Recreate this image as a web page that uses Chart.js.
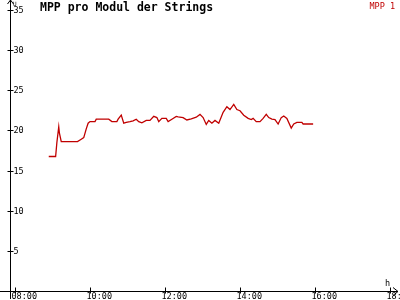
<!DOCTYPE html>
<html>
<head>
<meta charset="utf-8">
<script src="https://cdn.jsdelivr.net/npm/chart.js@4"></script>
<style>
  html, body { margin: 0; padding: 0; background: #fff; }
  #chart { display: block; }
</style>
</head>
<body>
<canvas id="chart" width="400" height="300"></canvas>
<script>
// Messzeitpunkte (hh:mm) und MPP-Werte pro Modul
const times = ['08:54', '09:05', '09:07', '09:10', '09:11', '09:14', '09:40', '09:46', '09:50', '09:54',
  '09:57', '10:00', '10:08', '10:10', '10:30', '10:35', '10:43', '10:45', '10:50', '10:54',
  '10:58', '11:04', '11:09', '11:14', '11:18', '11:23', '11:30', '11:36', '11:42', '11:47',
  '11:50', '11:55', '12:02', '12:05', '12:11', '12:18', '12:21', '12:29', '12:35', '12:42',
  '12:50', '12:56', '13:01', '13:06', '13:10', '13:15', '13:20', '13:26', '13:33', '13:39',
  '13:44', '13:50', '13:55', '14:00', '14:06', '14:13', '14:18', '14:21', '14:26', '14:32',
  '14:37', '14:42', '14:46', '14:51', '14:56', '15:01', '15:06', '15:10', '15:15', '15:22',
  '15:26', '15:31', '15:39', '15:41', '15:57'];
const mpp1 = [16.75, 16.75, 18.5, 20.45, 19.7, 18.6, 18.6, 18.9, 19.1, 20.2,
  20.9, 21.1, 21.1, 21.4, 21.4, 21.1, 21.1, 21.4, 21.9, 20.9,
  21.0, 21.1, 21.2, 21.4, 21.1, 20.95, 21.25, 21.25, 21.75, 21.6,
  21.1, 21.5, 21.5, 21.1, 21.4, 21.75, 21.7, 21.6, 21.3, 21.45,
  21.65, 22.0, 21.6, 20.75, 21.25, 20.9, 21.25, 20.9, 22.25, 22.95,
  22.6, 23.25, 22.6, 22.45, 21.9, 21.5, 21.35, 21.5, 21.1, 21.1,
  21.5, 22.0, 21.6, 21.4, 21.35, 20.8, 21.6, 21.8, 21.5, 20.3,
  20.8, 21.0, 21.0, 20.8, 20.8];

const xTickHours = [8, 10, 12, 14, 16, 18];
const xTickLabels = ['08:00', '10:00', '12:00', '14:00', '16:00', '18:00'];
const yTicks = [5, 10, 15, 20, 25, 30, 35];

const titleText = 'MPP pro Modul der Strings';
const seriesName = 'MPP 1';
const lineColor = '#c00000';

function toHours(t) {
  const [h, m] = t.split(':').map(Number);
  return h + m / 60;
}

const points = times.map((t, i) => ({ x: toHours(t), y: mpp1[i] }));

// --- Achsen, Beschriftung, Legende ---
const axesPlugin = {
  id: 'axes',
  afterDraw(chart) {
    const ctx = chart.ctx;
    const xs = chart.scales.x;
    const ys = chart.scales.y;
    const x0 = Math.round(xs.getPixelForValue(xs.min)) + 0.5;
    const y0 = Math.round(ys.getPixelForValue(0)) + 0.5;

    ctx.save();
    ctx.strokeStyle = '#000';
    ctx.fillStyle = '#000';
    ctx.lineWidth = 1;

    // Achsenlinien
    ctx.beginPath();
    ctx.moveTo(0, y0); ctx.lineTo(398, y0);
    ctx.moveTo(x0, 299); ctx.lineTo(x0, 0);
    // Pfeile
    ctx.moveTo(393, y0 - 4); ctx.lineTo(398, y0); ctx.lineTo(393, y0 + 4);
    ctx.moveTo(x0 - 3, 4); ctx.lineTo(x0, 0); ctx.lineTo(x0 + 3, 4);
    ctx.stroke();

    ctx.font = '8.5px "DejaVu Sans Mono", monospace';

    // y-Ticks
    ctx.textAlign = 'left';
    ctx.textBaseline = 'middle';
    yTicks.forEach(v => {
      const py = Math.round(ys.getPixelForValue(v)) + 0.5;
      ctx.beginPath();
      ctx.moveTo(x0 - 3, py); ctx.lineTo(x0 + 3, py);
      ctx.stroke();
      ctx.fillText(String(v), x0 + 3, py + 0.5);
    });

    // x-Ticks
    ctx.textBaseline = 'top';
    xTickHours.forEach((h, i) => {
      const px = Math.round(xs.getPixelForValue(h)) + 0.5;
      ctx.beginPath();
      ctx.moveTo(px, y0 - 4); ctx.lineTo(px, y0 + 2);
      ctx.stroke();
      ctx.fillText(xTickLabels[i], px - 4, y0 + 1);
    });

    // Einheiten
    ctx.textBaseline = 'alphabetic';
    ctx.fillText('h', 385, 286);
    ctx.font = '6px "DejaVu Sans Mono", monospace';
    ctx.fillText('U', 13, 6);

    // Titel
    ctx.font = 'bold 11.5px "DejaVu Sans Mono", monospace';
    ctx.fillText(titleText, 40, 11);

    // Legende
    ctx.font = '8.5px "DejaVu Sans Mono", monospace';
    ctx.fillStyle = lineColor;
    ctx.textAlign = 'right';
    ctx.fillText(seriesName, 395, 9);

    ctx.restore();
  }
};

new Chart(document.getElementById('chart'), {
  type: 'line',
  data: {
    datasets: [{
      label: seriesName,
      data: points,
      borderColor: lineColor,
      backgroundColor: lineColor,
      borderWidth: 1.3,
      pointRadius: 0,
      tension: 0,
      fill: false
    }]
  },
  options: {
    responsive: false,
    animation: false,
    devicePixelRatio: 1,
    layout: { padding: { left: 10, right: 10, top: 10, bottom: 9 } },
    scales: {
      x: { type: 'linear', min: 8 - 5 / 37.5, max: 18, display: false },
      y: { type: 'linear', min: 0, max: 35, display: false }
    },
    plugins: {
      legend: { display: false },
      title: { display: false },
      tooltip: { enabled: false }
    }
  },
  plugins: [axesPlugin]
});
</script>
</body>
</html>
